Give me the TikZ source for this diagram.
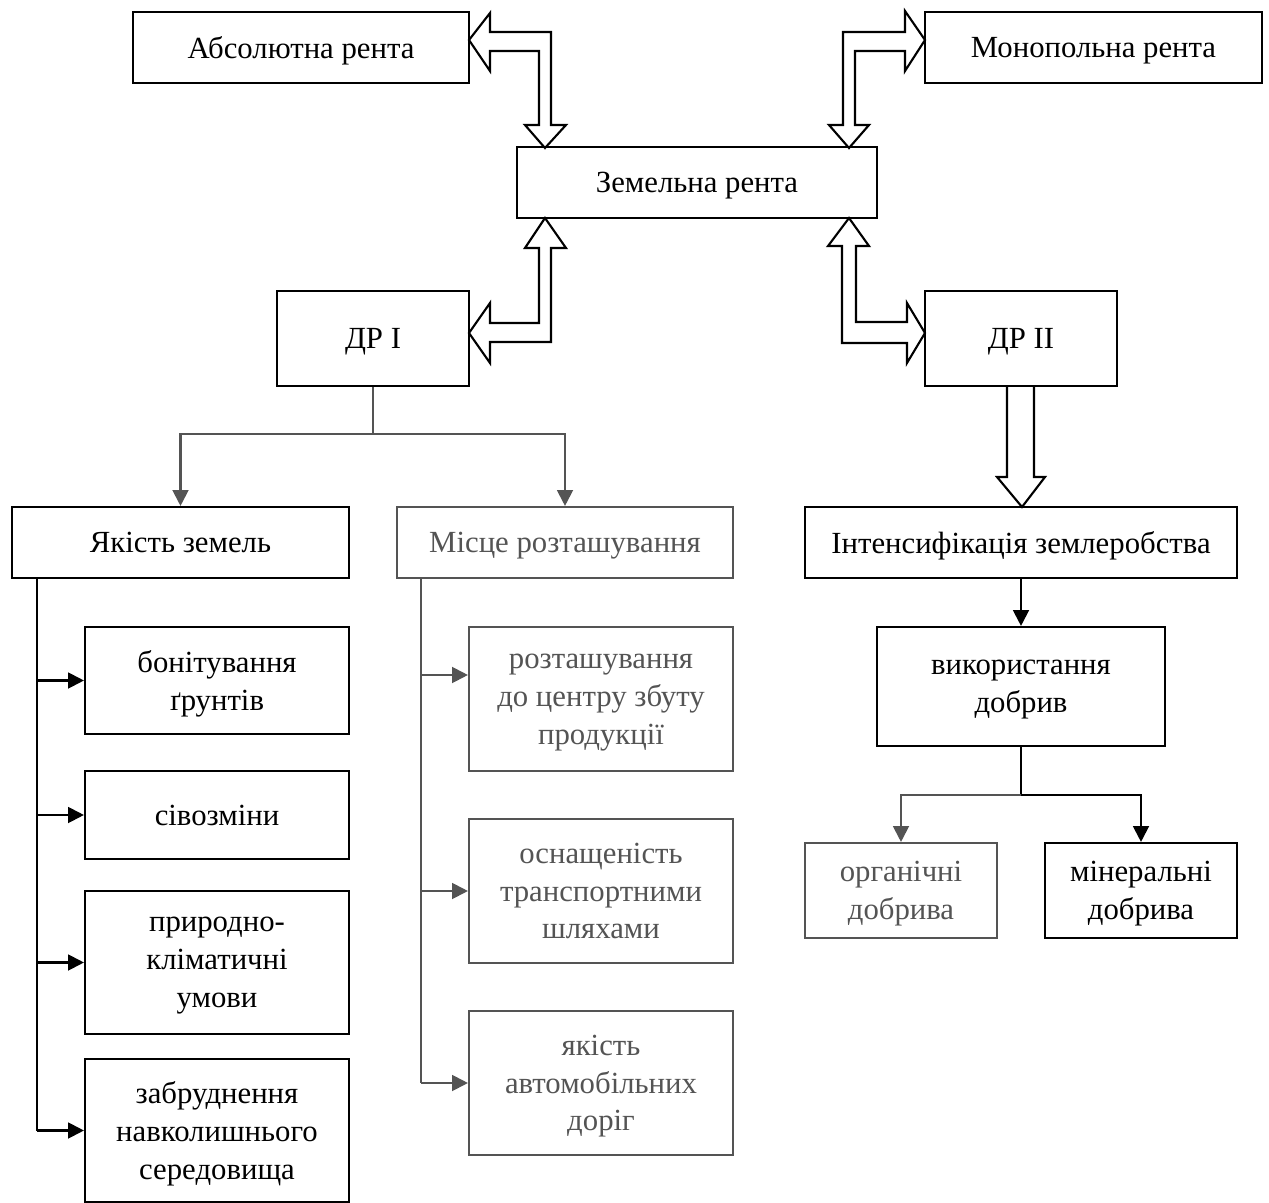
\documentclass[tikz,border=0pt]{standalone}
\usepackage{fontspec}
\setmainfont{Liberation Serif}
\usetikzlibrary{arrows.meta}
\definecolor{dg}{gray}{0.33}
\newcommand\mybox[7][]{\node[box,#1,minimum width={(#4-#2)*0.02cm},minimum height={(#5-#3)*0.02cm}] (#6) at ({(#2+#4)/2},{-(#3+#5)/2}) {#7};}
\begin{document}
\begin{tikzpicture}[x=0.02cm,y=0.02cm,
  box/.style={draw,line width=1.2pt,inner sep=0pt,align=center,font=\fontsize{17.5}{21.5}\selectfont,text depth=0pt},
  grey/.style={draw=dg,text=dg},
  blk/.style={draw,line width=1.2pt,fill=white,line join=miter},
  arr/.style={line width=1.2pt,-{Triangle[length=9pt,width=9pt]}},
  garr/.style={arr,draw=dg,color=dg}]
\useasboundingbox (0,0) rectangle (1269,-1203);
% boxes
\mybox{133}{12}{469}{83}{abs}{Абсолютна рента}
\mybox{925}{12}{1262}{83}{mon}{Монопольна рента}
\mybox{517}{147}{877}{218}{zem}{Земельна рента}
\mybox{277}{291}{469}{386}{dr1}{ДР I}
\mybox{925}{291}{1117}{386}{dr2}{ДР II}
\mybox{12}{507}{349}{578}{jak}{Якість земель}
\mybox[grey]{397}{507}{733}{578}{mis}{Місце розташування}
\mybox{805}{507}{1237}{578}{int}{Інтенсифікація землеробства}
\mybox{85}{627}{349}{734}{bon}{бонітування\\ ґрунтів}
\mybox{85}{771}{349}{859}{siv}{сівозміни}
\mybox{85}{891}{349}{1034}{pry}{природно-\\кліматичні\\умови}
\mybox{85}{1059}{349}{1202}{zab}{забруднення\\навколишнього\\середовища}
\mybox[grey]{469}{627}{733}{771}{roz}{розташування\\до центру збуту\\продукції}
\mybox[grey]{469}{819}{733}{963}{osn}{оснащеність\\транспортними\\шляхами}
\mybox[grey]{469}{1011}{733}{1155}{yak}{якість\\автомобільних\\доріг}
\mybox{877}{627}{1165}{746}{vyk}{використання\\добрив}
\mybox[grey]{805}{843}{997}{938}{org}{органічні\\добрива}
\mybox{1045}{843}{1237}{938}{min}{мінеральні\\добрива}
% hollow block arrows
\draw[blk] (469,-40) -- (490,-13) -- (490,-32) -- (551,-32) -- (551,-125) -- (566,-125) -- (545,-148) -- (525,-125) -- (539,-125) -- (539,-51) -- (490,-51) -- (490,-71) -- cycle;
\draw[blk] (925,-40) -- (905,-11) -- (905,-32) -- (843,-32) -- (843,-125) -- (829,-125) -- (849,-148) -- (869,-125) -- (855,-125) -- (855,-51) -- (905,-51) -- (905,-71) -- cycle;
\draw[blk] (545,-218) -- (566,-248) -- (551,-248) -- (551,-342) -- (490,-342) -- (490,-363) -- (469,-333) -- (490,-303) -- (490,-323) -- (539,-323) -- (539,-248) -- (525,-248) -- cycle;
\draw[blk] (849,-218) -- (869,-246) -- (856,-246) -- (856,-322) -- (907,-322) -- (907,-303) -- (925,-333) -- (907,-363) -- (907,-343) -- (842,-343) -- (842,-246) -- (828,-246) -- cycle;
\draw[blk] (1007,-387) -- (1007,-477) -- (997,-477) -- (1022,-507) -- (1045,-477) -- (1034,-477) -- (1034,-387);
% ДР I branches
\coordinate (j1) at (373,-434);
\draw[dg,line width=1.2pt] (dr1.south) -- (j1);
\draw[garr] (j1) -| (jak.north);
\draw[garr] (j1) -| (mis.north);
% left column
\coordinate (lx) at (37,-578);
\draw[line width=1.2pt] (lx) -- (37,-1131);
\draw[arr] (bon.west -| lx) -- (bon.west);
\draw[arr] (siv.west -| lx) -- (siv.west);
\draw[arr] (pry.west -| lx) -- (pry.west);
\draw[arr] (zab.west -| lx) -- (zab.west);
% middle column
\coordinate (mx) at (421,-578);
\draw[dg,line width=1.2pt] (mx) -- (421,-1083);
\coordinate (m1) at (421,-675);
\draw[garr] (m1) -- (m1 -| roz.west);
\draw[garr] (osn.west -| mx) -- (osn.west);
\draw[garr] (yak.west -| mx) -- (yak.west);
% right column
\draw[arr] (int.south) -- (vyk.north);
\coordinate (j2) at (1021,-795);
\draw[line width=1.2pt] (vyk.south) -- (j2);
\draw[arr] (j2) -| (min.north);
\draw[garr] (j2) -| (org.north);
\end{tikzpicture}
\end{document}
